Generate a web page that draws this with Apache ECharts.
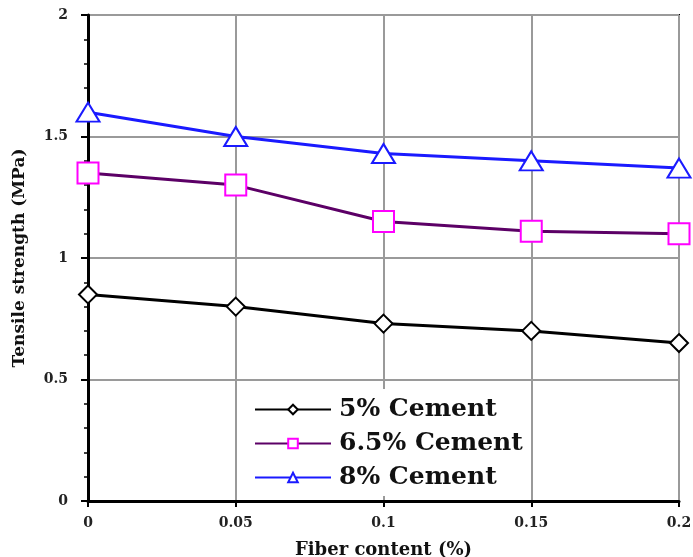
<!DOCTYPE html>
<html>
<head>
<meta charset="utf-8">
<script src="https://cdn.jsdelivr.net/npm/echarts@6/dist/echarts.min.js"></script>
<style>
  html, body { margin: 0; padding: 0; background: #fff; }
  #chart { width: 693px; height: 557px; }
</style>
</head>
<body>
<div id="chart"></div>
<script>
// Fiber content (%) on the x axis
const fiberContent = [0, 0.05, 0.1, 0.15, 0.2];
// Tensile strength (MPa) per cement content
const cement5 = [0.85, 0.80, 0.73, 0.70, 0.65];
const cement65 = [1.35, 1.30, 1.15, 1.11, 1.10];
const cement8 = [1.60, 1.50, 1.43, 1.40, 1.37];
const seriesNames = ['5% Cement', '6.5% Cement', '8% Cement'];

const FONT = '"DejaVu Serif", "Liberation Serif", serif';

function pairs(ys) {
  return fiberContent.map((x, i) => [x, ys[i]]);
}

const chart = echarts.init(document.getElementById('chart'));
chart.setOption({
  animation: false,
  backgroundColor: '#fff',
  grid: {
    left: 88, right: 14, top: 15, bottom: 56,
    containLabel: false, outerBoundsMode: 'none',
    show: true, borderColor: '#000', borderWidth: 2, backgroundColor: 'transparent'
  },
  xAxis: {
    type: 'value', min: 0, max: 0.2, interval: 0.05,
    name: 'Fiber content (%)', nameLocation: 'middle', nameGap: 40,
    nameTextStyle: { fontFamily: FONT, fontWeight: 'bold', fontSize: 18, color: '#111' },
    axisLine: { show: true, lineStyle: { color: '#000', width: 3 } },
    axisTick: { show: true, inside: false, length: 6, lineStyle: { color: '#000', width: 2 } },
    axisLabel: { fontFamily: FONT, fontWeight: 'bold', fontSize: 14, color: '#222', margin: 15 },
    splitLine: { show: true, lineStyle: { color: '#9a9a9a', width: 2 } }
  },
  yAxis: {
    type: 'value', min: 0, max: 2, interval: 0.5,
    name: 'Tensile strength (MPa)', nameLocation: 'middle', nameGap: 60,
    nameTextStyle: { fontFamily: FONT, fontWeight: 'bold', fontSize: 17, color: '#111' },
    axisLine: { show: true, lineStyle: { color: '#000', width: 3 } },
    axisTick: { show: true, inside: false, length: 7, lineStyle: { color: '#000', width: 2 } },
    minorTick: { show: true, splitNumber: 5, length: 4, lineStyle: { color: '#000', width: 1.5 } },
    axisLabel: { fontFamily: FONT, fontWeight: 'bold', fontSize: 14, color: '#222', margin: 20, padding: [11, 0, 0, 0] },
    splitLine: { show: true, lineStyle: { color: '#9a9a9a', width: 2 } }
  },
  legend: {
    orient: 'vertical', left: 245, top: 389,
    itemWidth: 76, itemHeight: 12, itemGap: 9,
    backgroundColor: '#fff', padding: [8, 6, 6, 9],
    textStyle: { fontFamily: FONT, fontWeight: 'bold', fontSize: 25, color: '#111', padding: [0, 0, 0, 3] },
    data: seriesNames
  },
  series: [
    {
      name: seriesNames[0], type: 'line', data: pairs(cement5),
      symbol: 'diamond', symbolSize: 18,
      lineStyle: { color: '#000', width: 3 },
      itemStyle: { color: '#fff', borderColor: '#000', borderWidth: 2 }
    },
    {
      name: seriesNames[1], type: 'line', data: pairs(cement65),
      symbol: 'rect', symbolSize: 21,
      lineStyle: { color: '#5c0066', width: 3 },
      itemStyle: { color: '#fff', borderColor: '#ff00ff', borderWidth: 2 }
    },
    {
      name: seriesNames[2], type: 'line', data: pairs(cement8),
      symbol: 'triangle', symbolSize: [23, 19],
      lineStyle: { color: '#1a1aff', width: 3 },
      itemStyle: { color: '#fff', borderColor: '#1a1aff', borderWidth: 2 }
    }
  ]
});
</script>
</body>
</html>
